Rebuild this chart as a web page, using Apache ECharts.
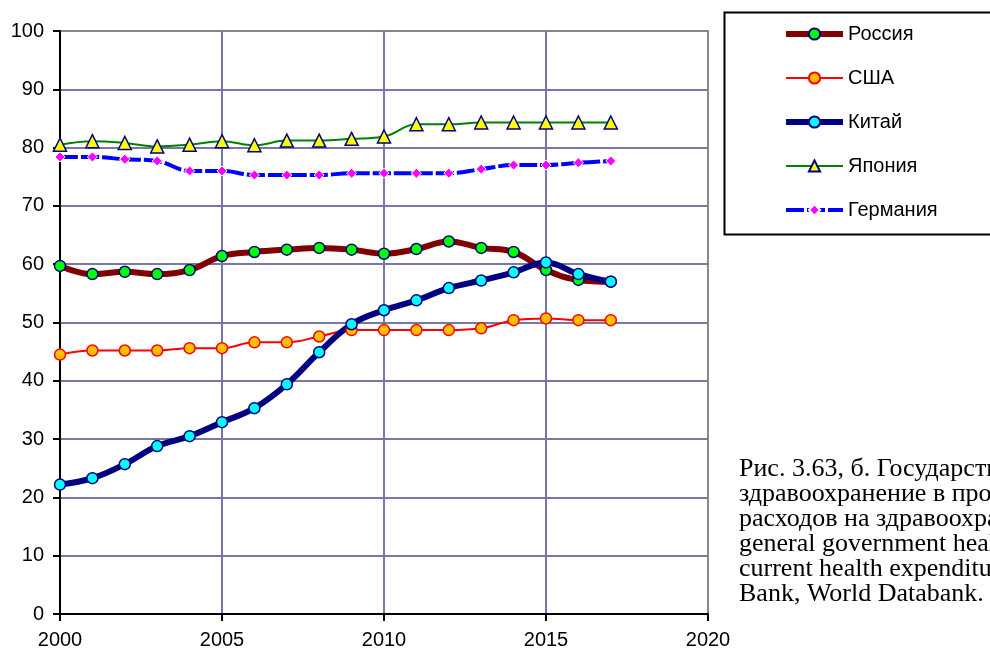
<!DOCTYPE html>
<html>
<head>
<meta charset="utf-8">
<script src="https://cdn.jsdelivr.net/npm/echarts@6/dist/echarts.min.js"></script>
<style>
  html, body { margin: 0; padding: 0; background: #fff; }
  #chart { width: 990px; height: 654px; }
</style>
</head>
<body>
<div id="chart"></div>
<script>
// годы и доли (%) по странам
const years = [2000, 2001, 2002, 2003, 2004, 2005, 2006, 2007, 2008, 2009, 2010, 2011, 2012, 2013, 2014, 2015, 2016, 2017]
const russia = [59.7, 58.3, 58.7, 58.3, 59.0, 61.4, 62.1, 62.5, 62.8, 62.5, 61.8, 62.6, 63.9, 62.8, 62.1, 59.0, 57.3, 57.0]
const usa = [44.5, 45.2, 45.2, 45.2, 45.6, 45.6, 46.6, 46.6, 47.6, 48.7, 48.7, 48.7, 48.7, 49.0, 50.4, 50.7, 50.4, 50.4]
const china = [22.2, 23.3, 25.7, 28.8, 30.5, 32.9, 35.3, 39.4, 44.9, 49.7, 52.1, 53.8, 55.9, 57.2, 58.6, 60.3, 58.3, 57.0]
const japan = [80.5, 81.1, 80.8, 80.2, 80.5, 81.1, 80.4, 81.2, 81.2, 81.5, 81.9, 84.0, 84.0, 84.3, 84.3, 84.3, 84.3, 84.3]
const germany = [78.4, 78.4, 78.0, 77.7, 76.0, 76.0, 75.3, 75.3, 75.3, 75.6, 75.6, 75.6, 75.6, 76.3, 77.0, 77.0, 77.4, 77.7]

const seriesNames = ['Россия', 'США', 'Китай', 'Япония', 'Германия']
const captionLines = [
  'Рис. 3.63, б. Государственные расходы на',
  'здравоохранение в процентах от общих',
  'расходов на здравоохранение. Источник: Domestic',
  'general government health expenditure (% of',
  'current health expenditure). Источник: World',
  'Bank, World Databank.'
]

const pairs = arr => years.map((y, i) => [y, arr[i]])

const chart = echarts.init(document.getElementById('chart'))

const axisCommon = {
  axisLine: { show: true, onZero: false, lineStyle: { color: '#000', width: 2 } },
  axisTick: { show: true, length: 7, lineStyle: { color: '#000', width: 2 } },
  axisLabel: { fontSize: 20, color: '#000', margin: 16, formatter: v => String(v) },
  splitLine: { show: true, showMinLine: false, showMaxLine: false, lineStyle: { color: '#7878a8', width: 2 } }
}

const option = {
  animation: false,
  backgroundColor: '#fff',
  textStyle: { fontFamily: 'Liberation Sans, Arial, sans-serif' },
  grid: {
    left: 60,
    top: 31,
    right: 282,
    bottom: 40,
    show: true,
    backgroundColor: '#fff',
    borderColor: '#888',
    borderWidth: 2
  },
  legend: {
    data: seriesNames,
    orient: 'vertical',
    left: 778,
    top: 19,
    itemWidth: 57,
    itemHeight: 14,
    itemGap: 24,
    lineStyle: { width: 'inherit' },
    textStyle: { fontSize: 20, color: '#000' }
  },
  xAxis: Object.assign({ type: 'value', min: 2000, max: 2020, interval: 5 }, axisCommon),
  yAxis: Object.assign({ type: 'value', min: 0, max: 100, interval: 10 }, axisCommon),
  series: [
    {
      name: 'Россия',
      type: 'line',
      smooth: 0.4,
      data: pairs(russia),
      symbol: 'circle',
      symbolSize: 11,
      lineStyle: { color: '#800000', width: 6 },
      itemStyle: { color: '#00ff00', borderColor: '#000080', borderWidth: 1.5 }
    },
    {
      name: 'США',
      type: 'line',
      smooth: 0.4,
      data: pairs(usa),
      symbol: 'circle',
      symbolSize: 11,
      lineStyle: { color: '#ff0000', width: 2 },
      itemStyle: { color: '#ffc000', borderColor: '#ff0000', borderWidth: 1.5 }
    },
    {
      name: 'Китай',
      type: 'line',
      smooth: 0.4,
      data: pairs(china),
      symbol: 'circle',
      symbolSize: 11,
      lineStyle: { color: '#000080', width: 6 },
      itemStyle: { color: '#00ffff', borderColor: '#000080', borderWidth: 1.5 }
    },
    {
      name: 'Япония',
      type: 'line',
      smooth: 0.4,
      data: pairs(japan),
      symbol: 'triangle',
      symbolSize: 13,
      lineStyle: { color: '#008000', width: 2 },
      itemStyle: { color: '#ffff00', borderColor: '#000080', borderWidth: 1.5 }
    },
    {
      name: 'Германия',
      type: 'line',
      smooth: 0.4,
      data: pairs(germany),
      symbol: 'diamond',
      symbolSize: 10,
      lineStyle: { color: '#0000ff', width: 4, type: [18, 3] },
      itemStyle: { color: '#ff00ff', borderColor: '#fff', borderWidth: 1 }
    }
  ],
  graphic: [
    {
      type: 'rect',
      left: 722,
      top: 10,
      shape: { width: 300, height: 222 },
      style: { fill: 'none', stroke: '#000', lineWidth: 2 },
      z: 100
    },
    {
      type: 'text',
      left: 739,
      top: 456,
      style: {
        text: captionLines.join('\n'),
        font: '26px "Liberation Serif", "Times New Roman", serif',
        lineHeight: 25,
        fill: '#000'
      }
    }
  ]
}

chart.setOption(option)
</script>
</body>
</html>
